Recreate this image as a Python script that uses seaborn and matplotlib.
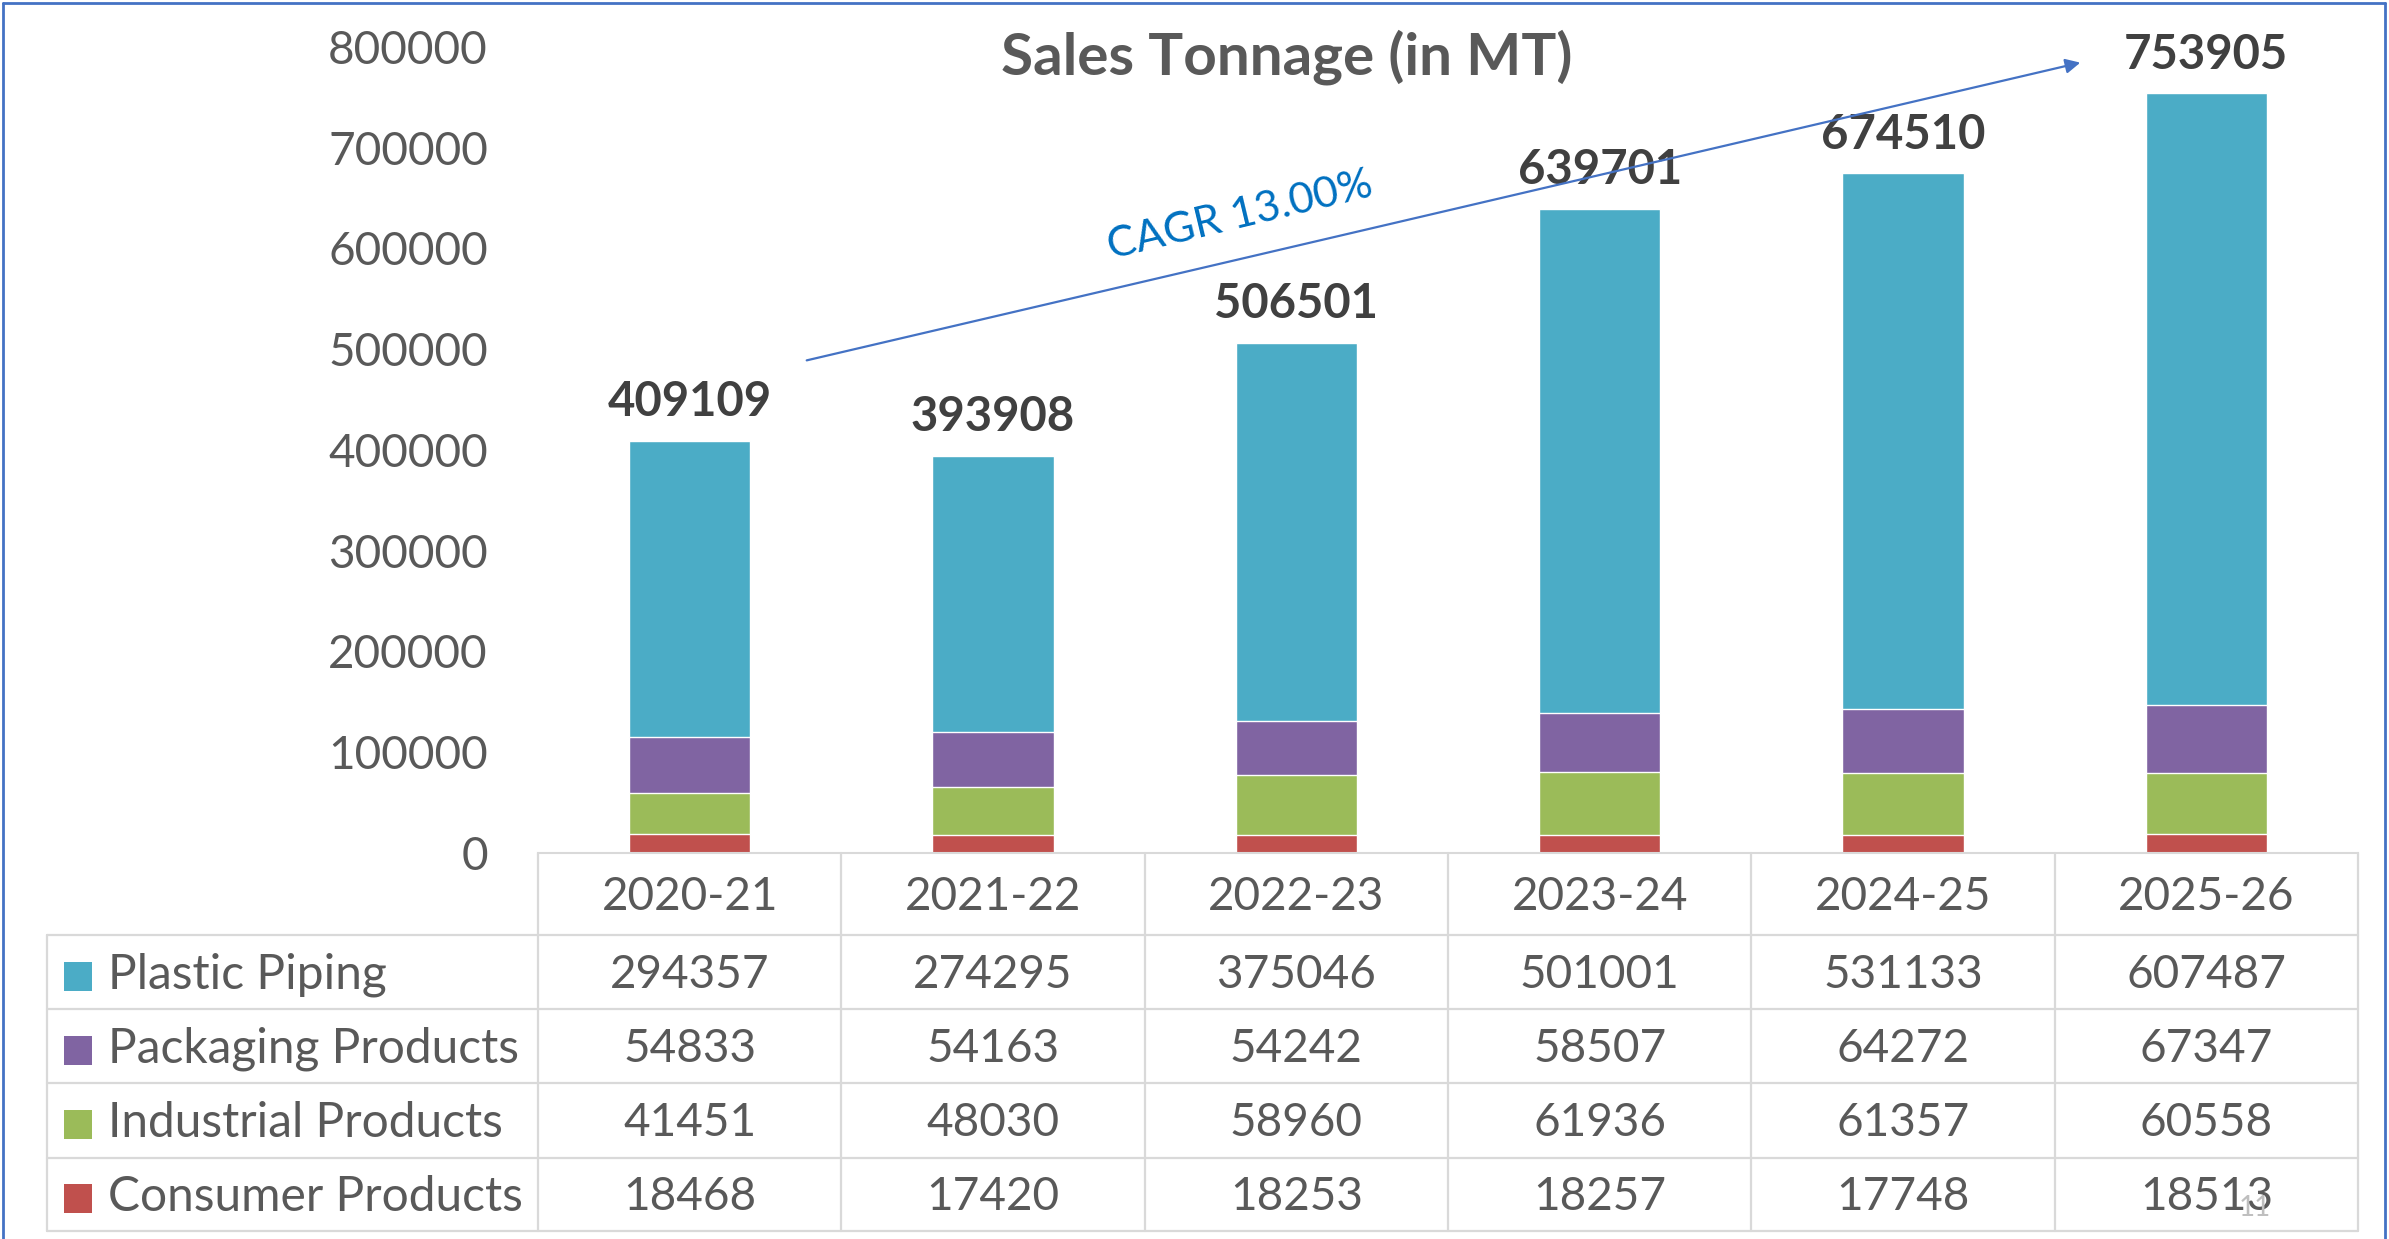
import numpy as np
import pandas as pd
import matplotlib
matplotlib.use('Agg')
import matplotlib.pyplot as plt
import matplotlib.transforms as mtransforms
from matplotlib.patches import Rectangle, FancyArrowPatch
from matplotlib.lines import Line2D
import seaborn as sns

years = ['2020-21', '2021-22', '2022-23', '2023-24', '2024-25', '2025-26']
series = ['Plastic Piping', 'Packaging Products', 'Industrial Products', 'Consumer Products']
plastic = [294357, 274295, 375046, 501001, 531133, 607487]
packaging = [54833, 54163, 54242, 58507, 64272, 67347]
industrial = [41451, 48030, 58960, 61936, 61357, 60558]
consumer = [18468, 17420, 18253, 18257, 17748, 18513]
colors = ['#4BACC6', '#8064A2', '#9BBB59', '#C0504D']

df = pd.DataFrame({'year': years, 'Plastic Piping': plastic, 'Packaging Products': packaging,
                   'Industrial Products': industrial, 'Consumer Products': consumer})

sns.set_style('white')
plt.rcParams['font.family'] = ['Lato', 'DejaVu Sans']
txt = '#595959'

W, H = 2389, 1239
fig = plt.figure(figsize=(W / 100, H / 100), dpi=100)
ax = fig.add_axes([538 / W, 1 - 853 / H, (2358 - 538) / W, (853 - 47) / H])

# stacked bars: draw cumulative heights from the top series downwards
stack = df[series[::-1]].cumsum(axis=1)[series]
for s, c in zip(series, colors):
    sns.barplot(x=df['year'], y=stack[s], color=c, width=0.4, saturation=1, ax=ax)

ax.bar_label(ax.containers[0], labels=[str(v) for v in stack['Plastic Piping']],
             padding=12, fontsize=34, fontweight='bold', color='#404040')

ax.set_ylim(0, 800000)
ax.set_yticks(np.arange(0, 800001, 100000))
ax.set_yticklabels([str(v) for v in range(0, 800001, 100000)], fontsize=33, color=txt)
ax.tick_params(axis='y', length=0, pad=36)
ax.set_xticks([])
ax.set_xlabel('')
ax.set_ylabel('')
for sp in ['left', 'right', 'top']:
    ax.spines[sp].set_visible(False)
ax.spines['bottom'].set_color('#d9d9d9')
ax.spines['bottom'].set_linewidth(1.5)

# data table under the chart
def fy(y):
    return 1 - y / H

def fx(x):
    return x / W

lc = '#d9d9d9'
row_edges = [935, 1009, 1083, 1158, 1231]
for y in row_edges:
    fig.add_artist(Line2D([fx(47), fx(2358)], [fy(y), fy(y)], color=lc, lw=1.6))
fig.add_artist(Line2D([fx(47), fx(47)], [fy(935), fy(1231)], color=lc, lw=1.6))
for i in range(len(years) + 1):
    x = 538 + i * (2358 - 538) / len(years)
    fig.add_artist(Line2D([fx(x), fx(x)], [fy(853), fy(1231)], color=lc, lw=1.6))

trans = mtransforms.blended_transform_factory(ax.transData, fig.transFigure)
for i, yr in enumerate(years):
    ax.text(i, fy(897), yr, transform=trans, ha='center', va='center', fontsize=33, color=txt)

row_centers = [975, 1049, 1123, 1197]
for s, c, yc in zip(series, colors, row_centers):
    fig.add_artist(Rectangle((fx(64), fy(yc + 16)), 28 / W, 29 / H, color=c, lw=0))
    fig.text(fx(108), fy(yc), s, ha='left', va='center', fontsize=34.5, color=txt)
    for i, v in enumerate(df[s]):
        ax.text(i, fy(yc), str(v), transform=trans, ha='center', va='center', fontsize=33, color=txt)

fig.text(fx(1287), fy(57), 'Sales Tonnage (in MT)', ha='center', va='center',
         fontsize=42, fontweight='bold', color=txt)

# CAGR arrow
fig.add_artist(FancyArrowPatch((fx(804), fy(361)), (fx(2083), fy(62)),
               transform=fig.transFigure, arrowstyle='-|>', mutation_scale=22,
               color='#4472C4', lw=1.6))
fig.text(fx(1240), fy(216), 'CAGR 13.00%', ha='center', va='center', rotation=13.5,
         rotation_mode='anchor', fontsize=31, color='#0070C0')

fig.text(fx(2255), fy(1208), '11', ha='center', va='center', fontsize=20, color='#bfbfbf')

# slide border
for xs, ys in [([3, 3], [3, 1239]), ([3, 2385], [3, 3]), ([2385, 2385], [3, 1239])]:
    fig.add_artist(Line2D([fx(x) for x in xs], [fy(y) for y in ys], color='#4472C4', lw=2))

fig.savefig('out.png', dpi=100, facecolor='white')
